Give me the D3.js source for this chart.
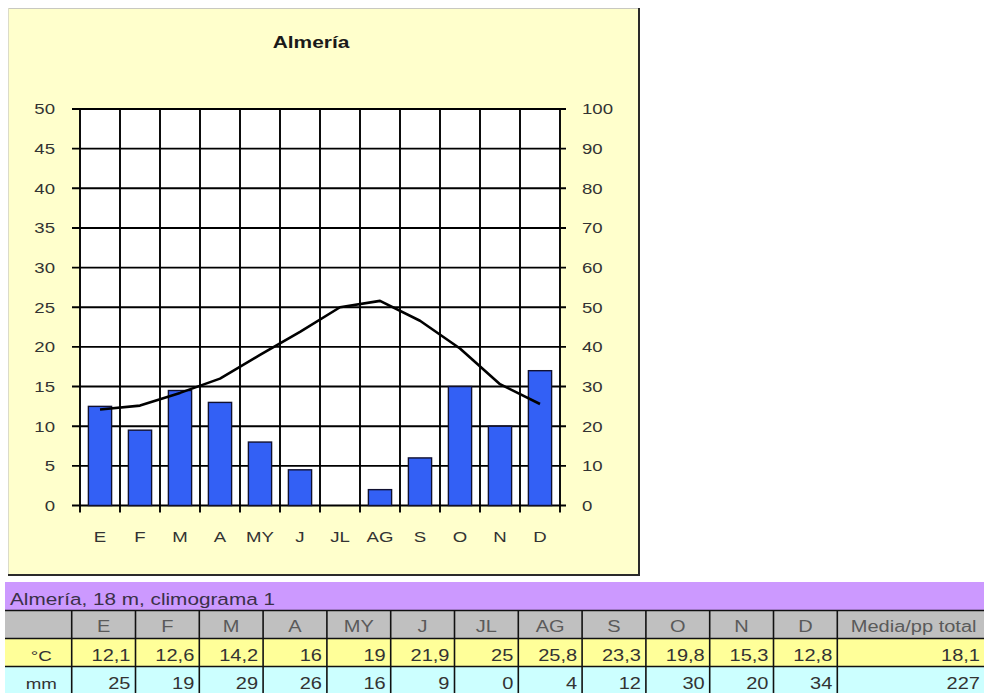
<!DOCTYPE html>
<html>
<head>
<meta charset="utf-8">
<script src="https://cdn.jsdelivr.net/npm/d3@7"></script>
<style>
  body { margin: 0; background: #ffffff; }
  #chart { width: 984px; height: 693px; }
</style>
</head>
<body>
<div id="chart"></div>
<script>
var months = ["E", "F", "M", "A", "MY", "J", "JL", "AG", "S", "O", "N", "D"];
var tempC = [12.1, 12.6, 14.2, 16, 19, 21.9, 25, 25.8, 23.3, 19.8, 15.3, 12.8];
var precipMm = [25, 19, 29, 26, 16, 9, 0, 4, 12, 30, 20, 34];
var leftTicks = [0, 5, 10, 15, 20, 25, 30, 35, 40, 45, 50];
var rightTicks = [0, 10, 20, 30, 40, 50, 60, 70, 80, 90, 100];
var rowLabels = ["°C", "mm"];
var summaryHeader = "Media/pp total";
var summaryValues = [18.1, 227];
var chartTitle = "Almería";
var tableTitle = "Almería, 18 m, climograma 1";

var W = 984, H = 693;
var fontFam = "'Liberation Sans', Arial, sans-serif";
var sx = 1.2; // the screenshot is stretched sideways, so is the text

var svg = d3.select("#chart").append("svg")
    .attr("width", W)
    .attr("height", H)
    .style("font-family", fontFam);

function comma(v) { return String(v).replace(".", ","); }

// text helper, stretched horizontally around its own anchor
function addText(parent, x, y, str, anchor, size, k, fill, weight) {
  return parent.append("text")
    .attr("x", x / k)
    .attr("y", y)
    .attr("transform", "scale(" + k + ",1)")
    .attr("text-anchor", anchor)
    .attr("font-size", size)
    .attr("font-weight", weight || "normal")
    .attr("fill", fill)
    .text(str);
}

// ---- chart box ----
var box = {left: 8, top: 8, right: 640, bottom: 576};
svg.append("rect")
  .attr("x", box.left).attr("y", box.top)
  .attr("width", box.right - box.left).attr("height", box.bottom - box.top)
  .attr("fill", "#ffffcc");
svg.append("line").attr("x1", box.left).attr("x2", box.right).attr("y1", box.top + 0.5).attr("y2", box.top + 0.5)
  .attr("stroke", "#c8c8c0");
svg.append("line").attr("x1", box.left + 0.5).attr("x2", box.left + 0.5).attr("y1", box.top).attr("y2", box.bottom)
  .attr("stroke", "#dcdcc8");
svg.append("line").attr("x1", box.right - 1).attr("x2", box.right - 1).attr("y1", box.top).attr("y2", box.bottom)
  .attr("stroke", "#2a2a2a").attr("stroke-width", 2);
svg.append("line").attr("x1", box.left).attr("x2", box.right).attr("y1", box.bottom - 1).attr("y2", box.bottom - 1)
  .attr("stroke", "#2a2a2a").attr("stroke-width", 2);

addText(svg, 311, 48.5, chartTitle, "middle", 17, 1.23, "#1a1a1a", "bold");

// ---- plot ----
var plot = {left: 80, right: 560, top: 109, bottom: 505.5};

var x = d3.scaleBand().domain(months).range([plot.left, plot.right]);
var yT = d3.scaleLinear().domain([0, 50]).range([plot.bottom, plot.top]);
var yP = d3.scaleLinear().domain([0, 100]).range([plot.bottom, plot.top]);

svg.append("rect")
  .attr("x", plot.left).attr("y", plot.top)
  .attr("width", plot.right - plot.left).attr("height", plot.bottom - plot.top)
  .attr("fill", "#ffffff");

var grid = svg.append("g").attr("stroke", "#000").attr("stroke-width", 1.9);
grid.selectAll("line.h")
  .data(leftTicks)
  .join("line")
    .attr("class", "h")
    .attr("x1", plot.left - 8).attr("x2", plot.right + 6)
    .attr("y1", function(d) { return yT(d); })
    .attr("y2", function(d) { return yT(d); });

var bounds = months.map(function(m) { return x(m); }).concat([plot.right]);
grid.selectAll("line.v")
  .data(bounds)
  .join("line")
    .attr("class", "v")
    .attr("x1", function(d) { return d; }).attr("x2", function(d) { return d; })
    .attr("y1", plot.top - 1).attr("y2", plot.bottom + 7);

// precipitation bars (right axis)
var barW = x.bandwidth() * 0.58;
svg.append("g").selectAll("rect")
  .data(precipMm)
  .join("rect")
    .attr("x", function(d, i) { return x(months[i]) + (x.bandwidth() - barW) / 2; })
    .attr("y", function(d) { return yP(d); })
    .attr("width", barW)
    .attr("height", function(d) { return yP(0) - yP(d); })
    .attr("fill", "#3360f5")
    .attr("stroke", "#101030")
    .attr("stroke-width", 1.4);

// temperature line (left axis)
var line = d3.line()
  .x(function(d, i) { return x(months[i]) + x.bandwidth() / 2; })
  .y(function(d) { return yT(d); });
svg.append("path")
  .datum(tempC)
  .attr("d", line)
  .attr("fill", "none")
  .attr("stroke", "#000")
  .attr("stroke-width", 2.6)
  .attr("stroke-linejoin", "round");

// axes, labels only (lines come from the grid)
function styleAxis(g) {
  g.select(".domain").remove();
  g.selectAll(".tick line").remove();
  g.selectAll("text")
    .attr("font-family", fontFam)
    .attr("font-size", 15.5)
    .attr("fill", "#333")
    .attr("x", function() { return +d3.select(this).attr("x") / sx; })
    .attr("transform", "scale(" + sx + ",1)");
}

svg.append("g")
  .attr("transform", "translate(" + plot.left + ",0)")
  .call(d3.axisLeft(yT).tickValues(leftTicks).tickSize(8).tickPadding(17))
  .call(styleAxis);

svg.append("g")
  .attr("transform", "translate(" + plot.right + ",0)")
  .call(d3.axisRight(yP).tickValues(rightTicks).tickSize(6).tickPadding(16))
  .call(styleAxis);

svg.append("g")
  .attr("transform", "translate(0," + plot.bottom + ")")
  .call(d3.axisBottom(x).tickSize(0).tickPadding(25))
  .call(styleAxis);

// ---- table below ----
var tbl = {left: 5, right: 990, firstCol: 71.7, lastCol: 837.3};
var rowsY = [582, 610.5, 638.5, 666.5, 694.5];
var tx = d3.scaleBand().domain(months).range([tbl.firstCol, tbl.lastCol]);
var rowFills = ["#cc99ff", "#c0c0c0", "#ffff99", "#ccffff"];

var table = svg.append("g");
table.selectAll("rect")
  .data(rowFills)
  .join("rect")
    .attr("x", tbl.left)
    .attr("y", function(d, i) { return rowsY[i]; })
    .attr("width", tbl.right - tbl.left)
    .attr("height", function(d, i) { return rowsY[i + 1] - rowsY[i]; })
    .attr("fill", function(d) { return d; });

var colBounds = [tbl.firstCol].concat(months.map(function(m) { return tx(m) + tx.bandwidth(); }));
table.selectAll("line.cv")
  .data(colBounds)
  .join("line")
    .attr("class", "cv")
    .attr("x1", function(d) { return d; }).attr("x2", function(d) { return d; })
    .attr("y1", rowsY[1]).attr("y2", rowsY[4])
    .attr("stroke", "#111").attr("stroke-width", 1.6);
table.selectAll("line.ch")
  .data(rowsY.slice(1, 4))
  .join("line")
    .attr("class", "ch")
    .attr("x1", tbl.left).attr("x2", tbl.right)
    .attr("y1", function(d) { return d; }).attr("y2", function(d) { return d; })
    .attr("stroke", "#111").attr("stroke-width", 1.6);

var tk = 1.25, tsize = 16;
addText(table, 10, rowsY[1] - 5, tableTitle, "start", 17, 1.22, "#3a3048");

// header row
months.forEach(function(m) {
  addText(table, tx(m) + tx.bandwidth() / 2, rowsY[2] - 6, m, "middle", tsize, tk, "#5a5a5a");
});
addText(table, (tbl.lastCol + tbl.right) / 2, rowsY[2] - 6, summaryHeader, "middle", tsize, tk, "#5a5a5a");

// value rows
[tempC, precipMm].forEach(function(vals, r) {
  var base = rowsY[r + 3] - 5;
  addText(table, (tbl.left + tbl.firstCol) / 2 + 3, base, rowLabels[r], "middle", 15, tk, "#333");
  vals.forEach(function(v, i) {
    addText(table, tx(months[i]) + tx.bandwidth() - 5, base, comma(v), "end", tsize, tk, "#333");
  });
  addText(table, 980, base, comma(summaryValues[r]), "end", tsize, tk, "#333");
});
</script>
</body>
</html>
